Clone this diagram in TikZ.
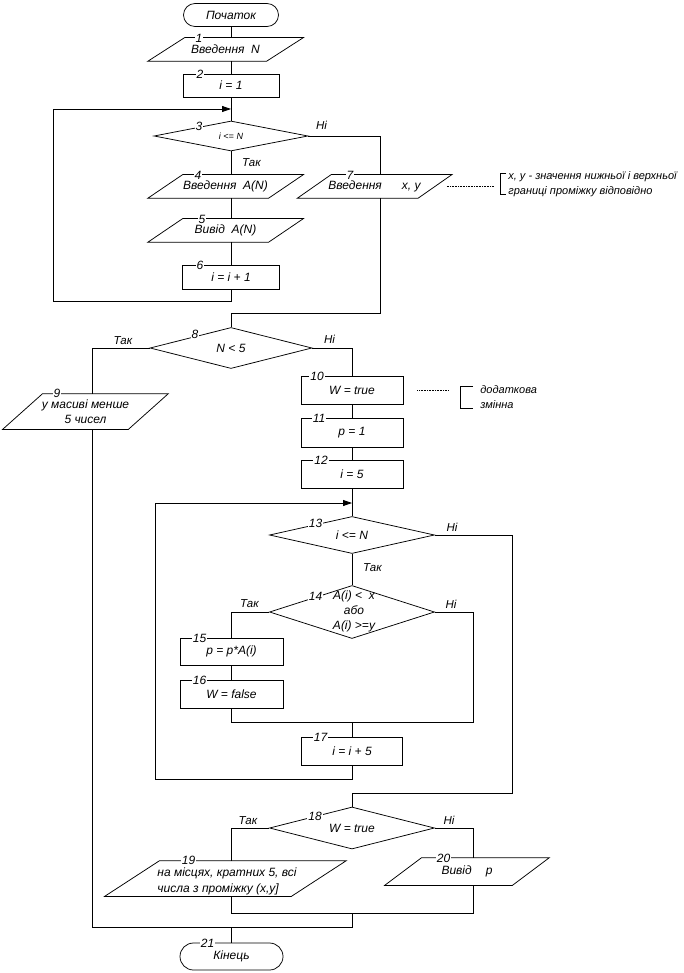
\documentclass[tikz,border=0pt]{standalone}
\usepackage{fontspec}
\setmainfont{Liberation Sans}
\usepackage{tikz}
\usetikzlibrary{calc,positioning,shapes.geometric,arrows.meta}
\tikzset{term/.style={draw, rectangle, inner sep=0pt, font=\fontsize{12}{15}\selectfont\itshape}}
\tikzset{blk/.style={draw, rectangle, inner sep=0pt, font=\fontsize{12}{15}\selectfont\itshape}}
\tikzset{iob/.style={rectangle, inner sep=0pt, align=center, font=\fontsize{12}{15}\selectfont\itshape}}
\tikzset{cond/.style={draw, diamond, aspect=4, inner sep=0pt, align=center, font=\fontsize{12}{15}\selectfont\itshape}}
\tikzset{num/.style={fill=white, inner sep=1pt, font=\fontsize{12}{12}\selectfont\itshape}}
\tikzset{yn/.style={inner sep=0pt, font=\fontsize{11.5}{12}\selectfont\itshape}}
\tikzset{note/.style={inner sep=0pt, align=left, anchor=west, font=\fontsize{11}{15}\selectfont\itshape}}
\tikzset{
  edgefl/.style={black},
  edgeloop/.style={black, -{Triangle[length=9pt,width=6pt]}},
  edgenote/.style={black, densely dotted, line width=0.6pt}
}
% parallelogram round an (undrawn) node: name, slant
\newcommand{\ioframe}[2]{\draw ($(#1.north west)+(#2/2,0)$) -- ($(#1.north east)+(#2/2,0)$) -- ($(#1.south east)+(-#2/2,0)$) -- ($(#1.south west)+(-#2/2,0)$) -- cycle;}

\begin{document}
\begin{tikzpicture}[x=1pt, y=-1pt, line width=0.75pt]
\useasboundingbox (0,0) rectangle (683,973);

% first part: input
\node[term, rounded corners=11.5pt, minimum width=95, minimum height=23] (start) at (231,15) {Початок};
\node[iob, minimum width=118, minimum height=23] (b1) at (225.5,49.5) {Введення~~N};
\ioframe{b1}{37}
\node[blk, minimum width=96, minimum height=23] (b2) at (231,85.5) {i = 1};
\node[cond, minimum width=154, minimum height=30, font=\fontsize{9}{10}\selectfont\itshape] (d3) at (231,136) {i <= N};
\node[iob, minimum width=120, minimum height=23] (b4) at (225.5,186.5) {Введення~~A(N)};
\ioframe{b4}{35}
\node[iob, minimum width=120, minimum height=23] (b5) at (225.5,230.5) {Вивід~~A(N)};
\ioframe{b5}{35}
\node[blk, minimum width=97, minimum height=24] (b6) at (231,277) {i = i + 1};
\node[iob, minimum width=120, minimum height=23] (b7) at (374.5,186.5) {Введення\hspace{20pt}x, y};
\ioframe{b7}{34}

% second part
\node[cond, minimum width=162, minimum height=41] (d8) at (231,348) {N < 5};
\node[iob, minimum width=125, minimum height=35] (b9) at (85.5,411.5) {у масиві менше\\5 чисел};
\ioframe{b9}{40}
\node[blk, minimum width=102, minimum height=28] (b10) at (352,390) {W = true};
\node[blk, minimum width=102, minimum height=29] (b11) at (352,432.5) {p = 1};
\node[blk, minimum width=102, minimum height=28] (b12) at (352,474) {i = 5};
\node[cond, minimum width=165, minimum height=37] (d13) at (352,535) {i <= N};
\node[cond, minimum width=165, minimum height=53] (d14) at (352,612) {};
\node[iob] (t14) at (354,611) {A(i) <~~x\\або\\A(i) >=y};
\node[blk, minimum width=103, minimum height=27] (b15) at (231.5,651.5) {p = p*A(i)};
\node[blk, minimum width=103, minimum height=28] (b16) at (231.5,694) {W = false};
\node[blk, minimum width=101, minimum height=28] (b17) at (352,751) {i = i + 5};
\node[cond, minimum width=165, minimum height=42] (d18) at (352,828) {W = true};
\node[iob, minimum width=186, minimum height=35] (b19) at (225.5,878.5) {};
\ioframe{b19}{55}
\node[iob, align=left, font=\fontsize{12}{16}\selectfont\itshape] (t19) at (227,881) {на місцях, кратних 5, всі\\числа з проміжку (x,y]};
\node[iob, minimum width=127, minimum height=27] (b20) at (467,871.5) {Вивід\hspace{14pt}p};
\ioframe{b20}{37}
\node[term, rounded corners=13.5pt, minimum width=103, minimum height=27] (stop) at (231.5,956.5) {Кінець};

% corners of the connectors
\coordinate (in3) at (231,109);
\coordinate (lp3) at (53,301);
\coordinate (c7) at (380,0);
\coordinate (j8) at (231,313);
\coordinate (in13) at (352,503);
\coordinate (lp13) at (155,779);
\coordinate (r13) at (512,793);
\coordinate (r14) at (473,722);
\coordinate (j18) at (352,913);
\coordinate (j21) at (92,927);

\draw[edgefl] (start.south) -- (start.south |- b1.north);
\draw[edgefl] (b2.north |- b1.south) -- (b2.north);
\draw[edgefl] (b2.south) -- (d3.north);
\draw[edgefl] (d3.south) -- (d3.south |- b4.north);
\draw[edgefl] (d3.south |- b4.south) -- (d3.south |- b5.north);
\draw[edgefl] (d3.south |- b5.south) -- (b6.north);
\draw[edgeloop] (b6.south) |- (lp3) |- (in3);
\draw[edgefl] (d3.east) -| (c7 |- b7.north);
\draw[edgefl] (c7 |- b7.south) |- (j8);
\draw[edgefl] (j8) -- (d8.north);
\draw[edgefl] (d8.west) -| (j21 |- b9.north);
\draw[edgefl] (j21 |- b9.south) -- (j21);
\draw[edgefl] (d8.east) -| (b10.north);
\draw[edgefl] (b10) -- (b11);
\draw[edgefl] (b11) -- (b12);
\draw[edgefl] (b12) -- (d13);
\draw[edgefl] (d13) -- (d14);
\draw[edgefl] (d14.west) -| (b15.north);
\draw[edgefl] (b15) -- (b16);
\draw[edgefl] (d14.east) -| (r14) -| (b16.south);
\draw[edgefl] (b17.north |- r14) -- (b17.north);
\draw[edgeloop] (b17.south) |- (lp13) |- (in13);
\draw[edgefl] (d13.east) -| (r13) -| (d18.north);
\draw[edgefl] (d18.west) -| (stop.north |- b19.north);
\draw[edgefl] (d18.east) -| (r14 |- b20.north);
\draw[edgefl] (stop.north |- b19.south) |- (r14 |- j18) -- (r14 |- b20.south);
\draw[edgefl] (j18) |- (j21);
\draw[edgefl] (stop.north |- j21) -- (stop.north);

% comments
\node[note] (note7) at (508,184.5) {x, y - значення нижньої і верхньої\\границі проміжку відповідно};
\draw[edgefl] ($(note7.north west)+(-2,2)$) -| ($(note7.south west)+(-8,-3)$) -- ($(note7.south west)+(-2,-3)$);
\draw[edgenote] ([xshift=12]b7.east) -- ([xshift=59]b7.east);
\node[note] (note10) at (480,397) {додаткова\\змінна};
\draw[edgefl] ($(note10.north west)+(-7,1)$) -| ($(note10.south west)+(-20,-1)$) -- ($(note10.south west)+(-7,-1)$);
\draw[edgenote] ([xshift=14]b10.east) -- ([xshift=45]b10.east);

% branch labels
\foreach \k/\t/\x/\y in {a/Ні/321.5/125.5, b/Так/251.5/163, c/Так/123/340.5, d/Ні/329.5/339.5,
  e/Ні/452/527, f/Так/372.5/567.5, g/Так/249.5/604, h/Ні/451/604, i/Так/248/821, j/Ні/449/820}
  \node[yn] (yn\k) at (\x,\y) {\t};

% block numbers
\foreach \t/\x/\y in {1/199/38, 2/200/74, 3/199/126, 4/198/175, 5/202/219, 6/200/265, 7/350/175,
  8/195/334, 9/57/393, 10/317/376.5, 11/319/418.5, 12/321/460, 13/315.5/523.5, 14/315.5/596,
  15/199.5/638, 16/199.5/680, 17/320.5/737, 18/315/816, 19/188.5/860, 20/443.5/858, 21/207.5/943}
  \node[num] (n\t) at (\x,\y) {\t};
\end{tikzpicture}
\end{document}
